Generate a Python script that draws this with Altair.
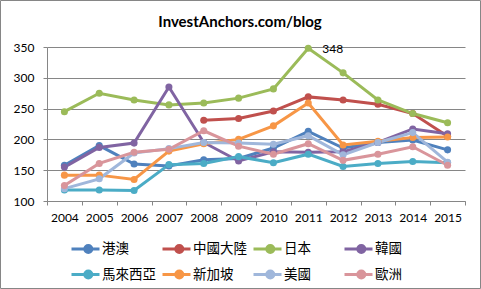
import altair as alt
import pandas as pd

TITLE = "InvestAnchors.com/blog"
years = [str(y) for y in range(2004, 2016)]
series_names = ["港澳", "中國大陸", "日本", "韓國", "馬來西亞", "新加坡", "美國", "歐洲"]
series_colors = ["#4F81BD", "#C0504D", "#9BBB59", "#8064A2", "#4BACC6", "#F79646", "#A0B7DB", "#D9959B"]

hk = [158, 190, 160, 157, 167, 169, 186, 213, 186, 195, 199, 183]
cn = [None, None, None, None, 231, 234, 246, 269, 264, 257, 242, 205]
jp = [245, 275, 264, 256, 259, 267, 282, 348, 308, 264, 242, 227]
kr = [155, 187, 194, 285, 195, 165, 180, 179, 180, 195, 217, 209]
my = [118, 118, 117, 159, 161, 172, 162, 176, 156, 161, 164, 162]
sg = [142, 142, 135, 181, 193, 200, 222, 259, 191, 197, 203, 204]
us = [120, 136, 178, 185, 195, 194, 192, 206, 175, 195, 211, 163]
eu = [125, 161, 179, 184, 214, 189, 176, 193, 166, 176, 188, 158]
all_values = [hk, cn, jp, kr, my, sg, us, eu]
y_ticks = [100, 150, 200, 250, 300, 350]
peak_label = "348"

rows = []
for name, vals in zip(series_names, all_values):
    for yr, v in zip(years, vals):
        if v is not None:
            rows.append({"year": yr, "series": name, "value": v})
df = pd.DataFrame(rows)
df["order"] = df["series"].map({n: i for i, n in enumerate(series_names)})

LATIN = "Lato"
CJK = "Noto Sans CJK TC"
GRAY = "#868686"

x_enc = alt.X("year:N", sort=years, title=None,
              scale=alt.Scale(type="band", paddingInner=0, paddingOuter=0),
              axis=alt.Axis(labelAngle=0, tickBand="extent", domainColor=GRAY, tickColor=GRAY,
                            tickSize=4, labelPadding=7, labelFont=LATIN, labelFontSize=12,
                            labelColor="#000000", grid=False))
y_enc = alt.Y("value:Q", title=None,
              scale=alt.Scale(domain=[100, 350], nice=False, zero=False),
              axis=alt.Axis(values=y_ticks, tickCount=len(y_ticks), labelOverlap=False,
                            domainColor=GRAY, tickColor=GRAY, tickSize=4,
                            labelPadding=9, labelFont=LATIN, labelFontSize=12, labelColor="#000000",
                            grid=True, gridColor=GRAY, gridWidth=1))
color_enc = alt.Color("series:N", sort=series_names,
                      scale=alt.Scale(domain=series_names, range=series_colors),
                      legend=alt.Legend(title=None, orient="none", legendX=30, legendY=193,
                                        columns=4, direction="horizontal", gridAlign="all",
                                        columnPadding=0, rowPadding=5,
                                        symbolType="M-2,0L2,0M0.9,0A0.5,0.5,0,1,1,-0.1,0A0.5,0.5,0,1,1,0.9,0Z",
                                        symbolSize=196, symbolStrokeWidth=3, labelOffset=8,
                                        labelFont=CJK, labelFontSize=13.5, labelColor="#000000"))

base = alt.Chart(df)
lines = base.mark_line(strokeWidth=3).encode(
    x=x_enc, y=y_enc, color=color_enc, order=alt.Order("order:Q"), detail="series:N")
points = base.mark_circle(size=50, opacity=1).encode(
    x=alt.X("year:N", sort=years), y="value:Q", color=alt.Color("series:N", sort=series_names))

lab_df = pd.DataFrame({"year": ["2011"], "value": [348], "t": [peak_label]})
label = alt.Chart(lab_df).mark_text(align="left", baseline="middle", dx=14, dy=1,
                                    font=LATIN, fontSize=12, color="#000000").encode(
    x=alt.X("year:N", sort=years), y="value:Q", text="t:N")

title_df = pd.DataFrame({"t": [TITLE]})
title = alt.Chart(title_df).mark_text(align="center", baseline="middle", font=LATIN,
                                      fontSize=15, fontWeight="bold", color="#000000").encode(
    x=alt.value(193), y=alt.value(-25), text="t:N")

border_df = pd.DataFrame({"k": [0]})
border = alt.Chart(border_df).mark_rect(fill=None, stroke=GRAY, strokeWidth=1).encode(
    x=alt.value(-46.5), x2=alt.value(433.5), y=alt.value(-46.5), y2=alt.value(241.5))

chart = alt.layer(border, lines, points, label, title).properties(
    width=418, height=154, padding=0,
    background="#FFFFFF"
).configure_view(stroke=None).resolve_scale(color="shared")

chart.save("out.html", embed_options={"renderer": "svg", "actions": False})
